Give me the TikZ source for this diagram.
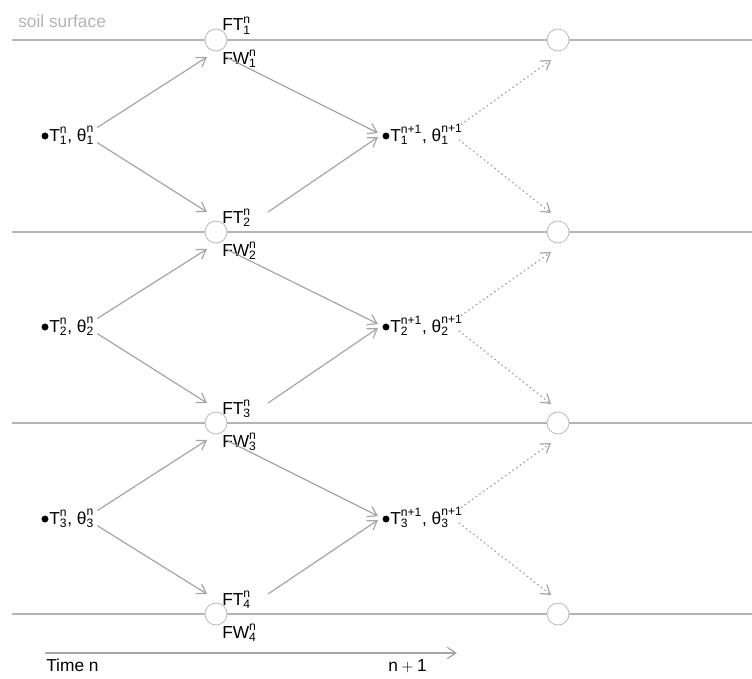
\documentclass[tikz,border=0pt]{standalone}
\usepackage{fontspec}
\setmainfont{Liberation Sans}
\usepackage{amsmath}
\usetikzlibrary{arrows.meta}
\definecolor{linegray}{RGB}{180,180,180}
\definecolor{arrgray}{RGB}{165,165,165}
\definecolor{circgray}{RGB}{185,185,185}
\newcommand{\vr}[3]{$\text{#1}^{\text{#2}}_{\text{#3}}$}
\begin{document}
\begin{tikzpicture}[x=0.75pt,y=-0.75pt,
	>={Straight Barb[length=6.5pt,width=8.5pt]},
	font=\fontsize{13}{15}\selectfont,
	layer/.style={draw=linegray,line width=1pt},
	junc/.style={circle,draw=circgray,fill=white,line width=0.6pt,minimum size=16.5pt,inner sep=0pt},
	dot/.style={circle,fill=black,minimum size=5.2pt,inner sep=0pt},
	lab/.style={anchor=base west,inner sep=0pt},
	flux/.style={->,draw=arrgray,line width=0.9pt},
	next/.style={->,draw=arrgray,line width=0.9pt,dash pattern=on 1.2pt off 2.2pt}]
	\useasboundingbox (0,0) rectangle (752,678);
	
	% soil layer boundaries
	\draw[layer] (12,40)  -- (752,40);
	\draw[layer] (12,232) -- (752,232);
	\draw[layer] (12,423) -- (752,423);
	\draw[layer] (12,614) -- (752,614);
	\node[lab,text=linegray] (soil) at (18,27) {soil surface};
	
	\path
	(216,40)  node[junc] (c1) {}
	(216,232) node[junc] (c2) {}
	(216,423) node[junc] (c3) {}
	(216,614) node[junc] (c4) {}
	(558,40)  node[junc] (d1) {}
	(558,232) node[junc] (d2) {}
	(558,423) node[junc] (d3) {}
	(558,614) node[junc] (d4) {}
	(222,31)  node[lab] (ft1) {F\vr{T}{n}{1}}
	(222,64)  node[lab] (fw1) {F\vr{W}{n}{1}}
	(222,223) node[lab] (ft2) {F\vr{T}{n}{2}}
	(222,256) node[lab] (fw2) {F\vr{W}{n}{2}}
	(222,414) node[lab] (ft3) {F\vr{T}{n}{3}}
	(222,447) node[lab] (fw3) {F\vr{W}{n}{3}}
	(222,605) node[lab] (ft4) {F\vr{T}{n}{4}}
	(222,638) node[lab] (fw4) {F\vr{W}{n}{4}};
	
	\path
	(45,136)  node[dot] (p1) {}
	(45,327)  node[dot] (p2) {}
	(45,519)  node[dot] (p3) {}
	(386,136) node[dot] (q1) {}
	(386,327) node[dot] (q2) {}
	(386,519) node[dot] (q3) {}
	(49,141)  node[lab] (t1) {\vr{T}{n}{1}, \vr{θ}{n}{1}}
	(49,332)  node[lab] (t2) {\vr{T}{n}{2}, \vr{θ}{n}{2}}
	(49,524)  node[lab] (t3) {\vr{T}{n}{3}, \vr{θ}{n}{3}}
	(390,141) node[lab] (u1) {\vr{T}{n+1}{1}, \vr{θ}{n+1}{1}}
	(390,332) node[lab] (u2) {\vr{T}{n+1}{2}, \vr{θ}{n+1}{2}}
	(390,524) node[lab] (u3) {\vr{T}{n+1}{3}, \vr{θ}{n+1}{3}};
	
	% fluxes at time n
	\draw[flux] ([shift={(3,-8)}]t1.east) -- ([shift={(-9,17)}]c1.center);
	\draw[flux] ([shift={(3,7)}]t1.east)  -- ([shift={(-9,-20)}]c2.center);
	\draw[flux] ([shift={(10,17)}]c1.center) -- ([shift={(-8,-3)}]q1.center);
	\draw[flux] ([shift={(52,-20)}]c2.center) -- ([shift={(-8,1)}]q1.center);
	\draw[flux] ([shift={(3,-8)}]t2.east) -- ([shift={(-9,17)}]c2.center);
	\draw[flux] ([shift={(3,7)}]t2.east)  -- ([shift={(-9,-20)}]c3.center);
	\draw[flux] ([shift={(10,17)}]c2.center) -- ([shift={(-8,-3)}]q2.center);
	\draw[flux] ([shift={(52,-20)}]c3.center) -- ([shift={(-8,1)}]q2.center);
	\draw[flux] ([shift={(3,-8)}]t3.east) -- ([shift={(-9,17)}]c3.center);
	\draw[flux] ([shift={(3,7)}]t3.east)  -- ([shift={(-9,-20)}]c4.center);
	\draw[flux] ([shift={(10,17)}]c3.center) -- ([shift={(-8,-3)}]q3.center);
	\draw[flux] ([shift={(52,-20)}]c4.center) -- ([shift={(-8,1)}]q3.center);
	
	% fluxes at time n+1
	\draw[next] ([shift={(-2,-10)}]u1.east) -- ([shift={(-7,20)}]d1.center);
	\draw[next] ([shift={(-4,5)}]u1.east)   -- ([shift={(-7,-19)}]d2.center);
	\draw[next] ([shift={(-2,-10)}]u2.east) -- ([shift={(-7,20)}]d2.center);
	\draw[next] ([shift={(-4,5)}]u2.east)   -- ([shift={(-7,-19)}]d3.center);
	\draw[next] ([shift={(-2,-10)}]u3.east) -- ([shift={(-7,20)}]d3.center);
	\draw[next] ([shift={(-4,5)}]u3.east)   -- ([shift={(-7,-19)}]d4.center);
	
	% time axis
	\coordinate (ts) at (45,653);
	\coordinate (te) at (457,653);
	\draw[flux] (ts) -- (te);
	\node[lab] (tn) at (46,671) {Time n};
	\node[lab] (tn1) at (388,671) {n${}+{}$1};
\end{tikzpicture}
\end{document}
